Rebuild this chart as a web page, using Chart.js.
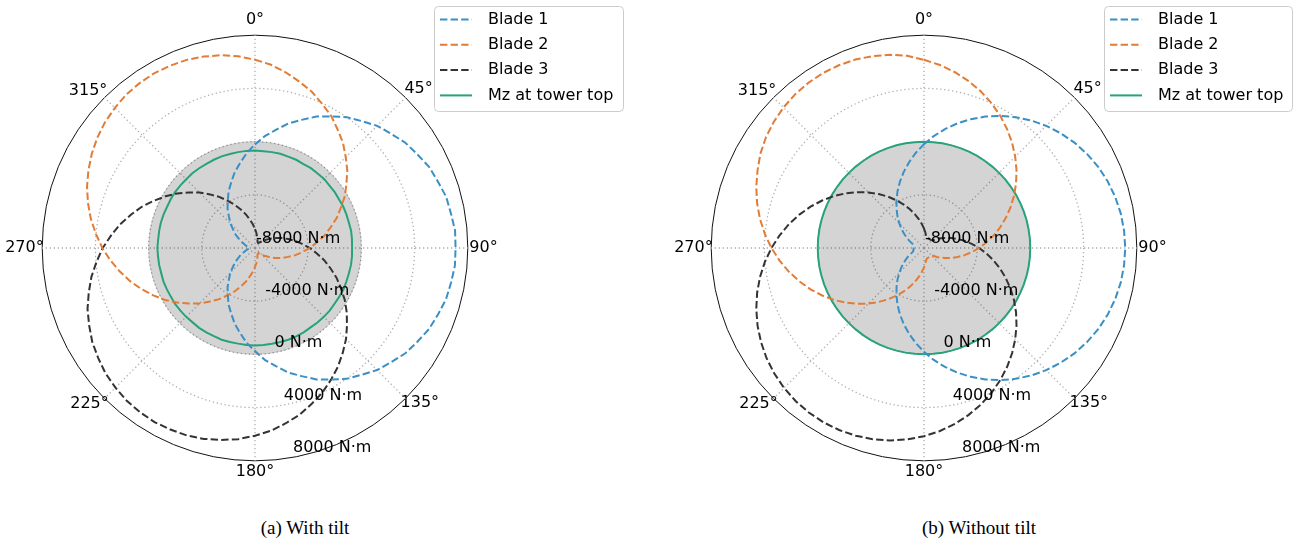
<!DOCTYPE html>
<html>
<head>
<meta charset="utf-8">
<script src="https://cdn.jsdelivr.net/npm/chart.js@4.4.1/dist/chart.umd.min.js"></script>
<style>
  html, body { margin: 0; padding: 0; background: #fff; }
  body { width: 1299px; height: 546px; position: relative; overflow: hidden; }
  canvas { position: absolute; }
  .caption {
    position: absolute; top: 517px; width: 300px; text-align: center;
    font: 19px 'Liberation Serif', 'Times New Roman', serif; color: #000;
  }
</style>
</head>
<body>
<canvas id="chart-tilt" width="660" height="485" style="left:-20px; top:0px"></canvas>
<canvas id="chart-notilt" width="650" height="485" style="left:649px; top:0px"></canvas>
<div class="caption" style="left:155px">(a) With tilt</div>
<div class="caption" style="left:829px">(b) Without tilt</div>
<script>
/* Blade root moments vs azimuth, polar plots (with / without tilt) */

// azimuth categories, degrees (clockwise from top)
const angles = [
  0, 5, 10, 15, 20, 25, 30, 35, 40, 45, 50, 55,
  60, 65, 70, 75, 80, 85, 90, 95, 100, 105, 110, 115,
  120, 125, 130, 135, 140, 145, 150, 155, 160, 165, 170, 175,
  180, 185, 190, 195, 200, 205, 210, 215, 220, 225, 230, 235,
  240, 245, 250, 255, 260, 265, 270, 275, 280, 285, 290, 295,
  300, 305, 310, 315, 320, 325, 330, 335, 340, 345, 350, 355
];
const angleTicks = ['0°', '45°', '90°', '135°', '180°', '225°', '270°', '315°'];
const radialTicks = [-8000, -4000, 0, 4000, 8000];
const seriesNames = ['Blade 1', 'Blade 2', 'Blade 3', 'Mz at tower top'];

// ---- (a) with tilt, N·m ----
const blade1Tilt = [
  -210, 440, 1020, 1690, 2250, 2900, 3420, 4010, 4460, 4990, 5360, 5800,
  6090, 6440, 6630, 6880, 6960, 7100, 7080, 7090, 6970, 6870, 6640, 6430,
  6100, 5800, 5360, 4980, 4450, 4010, 3410, 2900, 2250, 1700, 1020, 440,
  -250, -840, -1520, -2100, -2760, -3300, -3910, -4400, -4960, -5380, -5860, -6200,
  -6590, -6840, -7130, -7280, -7460, -7510, -7560, -7500, -7450, -7280, -7130, -6840,
  -6590, -6200, -5860, -5380, -4960, -4400, -3910, -3300, -2760, -2100, -1520, -840
];
const blade2Tilt = [
  6160, 5830, 5400, 4940, 4500, 3950, 3460, 2850, 2300, 1650, 1060, 390,
  -200, -880, -1480, -2140, -2710, -3340, -3870, -4440, -4910, -5420, -5820, -6240,
  -6550, -6880, -7090, -7320, -7430, -7530, -7540, -7510, -7450, -7290, -7120, -6850,
  -6580, -6210, -5850, -5390, -4950, -4410, -3900, -3310, -2740, -2110, -1500, -850,
  -190, 430, 1070, 1700, 2300, 2900, 3480, 4000, 4530, 5000, 5440, 5820,
  6170, 6470, 6720, 6900, 7060, 7130, 7170, 7120, 7050, 6900, 6720, 6470
];
const blade3Tilt = [
  -6580, -6850, -7120, -7290, -7450, -7520, -7550, -7510, -7440, -7310, -7100, -6870,
  -6560, -6240, -5820, -5410, -4920, -4440, -3880, -3330, -2720, -2130, -1480, -870,
  -210, 420, 1030, 1680, 2270, 2880, 3430, 3990, 4470, 4970, 5380, 5790,
  6110, 6430, 6650, 6860, 7000, 7060, 7110, 7070, 7000, 6840, 6670, 6400,
  6130, 5760, 5400, 4940, 4490, 3960, 3450, 2860, 2290, 1660, 1060, 400,
  -230, -850, -1510, -2110, -2740, -3310, -3900, -4420, -4940, -5400, -5850, -6220
];
const mzTilt = [
  -670, -700, -680, -660, -690, -680, -710, -670, -680, -650, -690, -680,
  -700, -670, -680, -690, -660, -680, -700, -680, -670, -690, -680, -660,
  -680, -700, -670, -680, -690, -710, -680, -670, -660, -680, -690, -680,
  -670, -680, -700, -680, -660, -690, -680, -670, -700, -680, -680, -660,
  -690, -680, -670, -700, -680, -680, -660, -690, -680, -670, -680, -700,
  -680, -660, -680, -690, -670, -680, -700, -680, -670, -690, -680, -670
];
const bandTilt = [
  0, 0, 0, 0, 0, 0, 0, 0, 0, 0, 0, 0,
  0, 0, 0, 0, 0, 0, 0, 0, 0, 0, 0, 0,
  0, 0, 0, 0, 0, 0, 0, 0, 0, 0, 0, 0,
  0, 0, 0, 0, 0, 0, 0, 0, 0, 0, 0, 0,
  0, 0, 0, 0, 0, 0, 0, 0, 0, 0, 0, 0,
  0, 0, 0, 0, 0, 0, 0, 0, 0, 0, 0, 0
];

// ---- (b) without tilt, N·m ----
const blade1NoTilt = [
  -190, 450, 1080, 1700, 2310, 2900, 3470, 4010, 4520, 4990, 5420, 5810,
  6150, 6450, 6690, 6880, 7020, 7100, 7130, 7100, 7020, 6880, 6690, 6450,
  6150, 5810, 5420, 4990, 4520, 4010, 3470, 2900, 2310, 1700, 1080, 450,
  -190, -830, -1470, -2090, -2700, -3290, -3860, -4400, -4900, -5380, -5810, -6200,
  -6540, -6830, -7080, -7170, -7200, -7210, -7215, -7210, -7200, -7170, -7080, -6830,
  -6540, -6200, -5810, -5380, -4900, -4400, -3860, -3290, -2700, -2090, -1470, -830
];
const blade2NoTilt = [
  6150, 5810, 5420, 4990, 4520, 4010, 3470, 2900, 2310, 1700, 1080, 450,
  -190, -830, -1470, -2090, -2700, -3290, -3860, -4400, -4900, -5380, -5810, -6200,
  -6540, -6830, -7080, -7170, -7200, -7210, -7215, -7210, -7200, -7170, -7080, -6830,
  -6540, -6200, -5810, -5380, -4900, -4400, -3860, -3290, -2700, -2090, -1470, -830,
  -190, 450, 1080, 1700, 2310, 2900, 3470, 4010, 4520, 4990, 5420, 5810,
  6200, 6510, 6750, 6940, 7080, 7160, 7190, 7160, 7080, 6940, 6750, 6510
];
const blade3NoTilt = [
  -6540, -6830, -7080, -7170, -7200, -7210, -7215, -7210, -7200, -7170, -7080, -6830,
  -6540, -6200, -5810, -5380, -4900, -4400, -3860, -3290, -2700, -2090, -1470, -830,
  -190, 450, 1080, 1700, 2310, 2900, 3470, 4010, 4520, 4990, 5420, 5810,
  6150, 6450, 6690, 6880, 7020, 7100, 7130, 7100, 7020, 6880, 6690, 6450,
  6150, 5810, 5420, 4990, 4520, 4010, 3470, 2900, 2310, 1700, 1080, 450,
  -190, -830, -1470, -2090, -2700, -3290, -3860, -4400, -4900, -5380, -5810, -6200
];
const mzNoTilt = [
  -10, -12, -9, -10, -11, -10, -8, -10, -12, -10, -9, -10,
  -11, -10, -10, -9, -12, -10, -10, -11, -9, -10, -10, -12,
  -10, -9, -11, -10, -10, -12, -10, -9, -10, -11, -10, -10,
  -9, -10, -12, -10, -11, -10, -10, -9, -10, -12, -10, -11,
  -10, -10, -9, -11, -10, -12, -10, -10, -9, -10, -11, -10,
  -10, -12, -10, -9, -10, -11, -10, -10, -12, -9, -10, -10
];

// ---- styling ----
const FONT = "'DejaVu Sans', 'Noto Sans', sans-serif";
const COLORS = ['#3a8fc4', '#e27c36', '#333333', '#27a27b'];
const FILL_GRAY = 'rgba(0, 0, 0, 0.17)';
const GRID_GRAY = '#b0b0b0';
const DOTS = [1.3, 2.7];
const RLABEL_ANGLE = 170; // degrees, where the radial tick labels sit
const LABEL_PAD = { 0: 6, 45: -1.5, 90: 1.5, 135: -7, 180: 1.4, 225: -6, 270: -1.5, 315: -4 };

/** radial tick labels along one spoke */
const radialLabelPlugin = {
  id: 'radialLabels',
  afterDatasetsDraw(chart) {
    const s = chart.scales.r;
    const ctx = chart.ctx;
    const a = RLABEL_ANGLE * Math.PI / 180;
    ctx.save();
    ctx.font = '16px ' + FONT;
    ctx.fillStyle = '#000';
    ctx.textAlign = 'left';
    ctx.textBaseline = 'middle';
    radialTicks.forEach(function (v) {
      const d = s.getDistanceFromCenterForValue(v);
      const x = s.xCenter + d * Math.sin(a);
      const y = s.yCenter - d * Math.cos(a);
      ctx.fillText(v + ' N\u00b7m', x + 1, y - 9.5);
    });
    ctx.restore();
  }
};

/** matplotlib-like framed legend at a fixed spot (canvas coords) */
const boxLegendPlugin = {
  id: 'boxLegend',
  afterDraw(chart, args, opts) {
    const ctx = chart.ctx;
    const b = opts.box;
    ctx.save();
    ctx.beginPath();
    ctx.roundRect(b.x + 0.5, b.y + 0.5, b.w, b.h, 4);
    ctx.fillStyle = 'rgba(255,255,255,0.8)';
    ctx.fill();
    ctx.strokeStyle = '#cccccc';
    ctx.lineWidth = 1;
    ctx.stroke();

    ctx.font = '16px ' + FONT;
    ctx.textAlign = 'left';
    ctx.textBaseline = 'middle';
    seriesNames.forEach(function (name, i) {
      const ds = chart.data.datasets.find(function (d) { return d.label === name; });
      const y = b.y + 13.5 + i * 25.3;
      ctx.beginPath();
      ctx.setLineDash(ds.borderDash || []);
      ctx.strokeStyle = ds.borderColor;
      ctx.lineWidth = ds.borderWidth;
      ctx.moveTo(b.x + 6, y);
      ctx.lineTo(b.x + 38, y);
      ctx.stroke();
      ctx.setLineDash([]);
      ctx.fillStyle = '#000';
      ctx.fillText(name, b.x + 54, y);
    });
    ctx.restore();
  }
};

function bladeSet(name, data, color) {
  return {
    label: name, data: data,
    borderColor: color, backgroundColor: 'transparent',
    borderWidth: 2, borderDash: [7.4, 3.2],
    pointRadius: 0, fill: false
  };
}

function makePolar(canvasId, datasets, legendBox, padRight) {
  const labels = angles.map(function (a) { return a % 45 === 0 ? angleTicks[a / 45] : ''; });
  return new Chart(document.getElementById(canvasId), {
    type: 'radar',
    data: { labels: labels, datasets: datasets },
    plugins: [radialLabelPlugin, boxLegendPlugin],
    options: {
      responsive: false,
      animation: false,
      events: [],
      layout: { padding: { left: 0, right: padRight, top: 8, bottom: 0 } },
      plugins: {
        legend: { display: false },
        tooltip: { enabled: false },
        boxLegend: { box: legendBox }
      },
      elements: { line: { tension: 0 } },
      scales: {
        r: {
          min: radialTicks[0],
          max: radialTicks[radialTicks.length - 1],
          ticks: { display: false, stepSize: 4000 },
          grid: {
            circular: true,
            color: function (c) { return c.tick && c.tick.value === 8000 ? '#111' : GRID_GRAY; },
            lineWidth: function (c) { return c.tick && c.tick.value === 8000 ? 1 : 1.3; },
            borderDash: DOTS
          },
          border: {
            dash: function (c) { return c.tick && c.tick.value === 8000 ? [] : DOTS; }
          },
          angleLines: {
            display: true,
            color: GRID_GRAY,
            lineWidth: function (c) { return c.index % 9 === 0 ? 1.3 : 0; },
            borderDash: DOTS
          },
          pointLabels: {
            display: true,
            color: '#000',
            font: { family: FONT, size: 16 },
            padding: function (c) {
              const a = angles[c.index];
              return LABEL_PAD[a] !== undefined ? LABEL_PAD[a] : 0;
            }
          }
        }
      }
    }
  });
}

makePolar('chart-tilt', [
  bladeSet(seriesNames[0], blade1Tilt, COLORS[0]),
  bladeSet(seriesNames[1], blade2Tilt, COLORS[1]),
  bladeSet(seriesNames[2], blade3Tilt, COLORS[2]),
  { label: seriesNames[3], data: mzTilt, borderColor: COLORS[3], borderWidth: 2,
    backgroundColor: 'transparent', pointRadius: 0, fill: false },
  { label: '', data: bandTilt, borderColor: 'rgba(0,0,0,0.12)', borderWidth: 1,
    backgroundColor: FILL_GRAY, pointRadius: 0, fill: 'start' }
], { x: 454, y: 6, w: 189, h: 105 }, 110);

makePolar('chart-notilt', [
  bladeSet(seriesNames[0], blade1NoTilt, COLORS[0]),
  bladeSet(seriesNames[1], blade2NoTilt, COLORS[1]),
  bladeSet(seriesNames[2], blade3NoTilt, COLORS[2]),
  { label: seriesNames[3], data: mzNoTilt, borderColor: COLORS[3], borderWidth: 2,
    backgroundColor: FILL_GRAY, pointRadius: 0, fill: 'start' }
], { x: 455, y: 6, w: 188, h: 105 }, 100);
</script>
</body>
</html>
